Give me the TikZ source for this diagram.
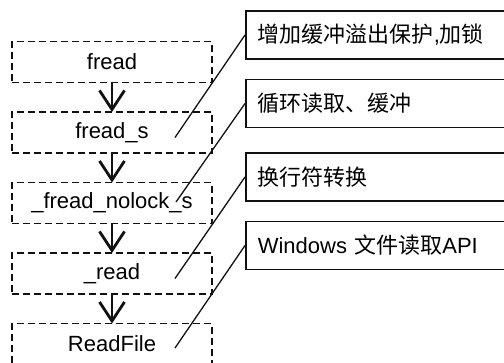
\documentclass[tikz,border=0pt]{standalone}
\usepackage{fontspec}
\setmainfont{Liberation Sans}
\newfontfamily\cjk{Noto Sans CJK SC}
\usetikzlibrary{arrows.meta,positioning}
\definecolor{ink}{HTML}{111111}
\tikzset{
  fnbox/.style={draw=ink,dash pattern=on 7pt off 4pt,line width=1.6pt,minimum width=200pt,minimum height=41pt,inner sep=0pt,outer sep=0pt,font=\fontsize{22}{26}\selectfont},
  note/.style={draw=ink,line width=1.6pt,anchor=west,minimum height=48pt,text width=260pt,inner xsep=12pt,inner ysep=0pt,align=left,font=\fontsize{22}{26}\selectfont},
  arr/.style={-{Straight Barb[length=19pt,width=25pt]},line width=2.8pt,color=ink},
  lnk/.style={line width=1.3pt,color=ink}}

\begin{document}
\begin{tikzpicture}[x=1pt,y=-1pt,node distance=29.5pt]
\useasboundingbox (0,0) rectangle (504,362);
\clip (0,0) rectangle (504,362);
% call chain
\node[fnbox] (fread) at (112,62) {fread};
\node[fnbox,below=of fread] (freads) {fread\_s};
\node[fnbox,below=of freads] (nolock) {\_fread\_nolock\_s};
\node[fnbox,below=of nolock] (rd) {\_read};
\node[fnbox,below=of rd] (rfile) {ReadFile};
\draw[arr] (fread) -- (freads);
\draw[arr] (freads) -- (nolock);
\draw[arr] (nolock) -- (rd);
\draw[arr] (rd) -- (rfile);
% notes
\node[note] (noteA) at (245,35) {{\cjk 增加缓冲溢出保护},{\cjk 加锁}};
\node[note] (noteB) at (245,103.5) {\cjk 循环读取、缓冲};
\node[note] (noteC) at (245,177) {\cjk 换行符转换};
\node[note] (noteD) at (245,245.5) {Windows {\cjk 文件读取}API};
\coordinate (pA) at ([shift={(63,5)}]freads.center);
\coordinate (pB) at ([shift={(64,-1)}]nolock.center);
\coordinate (pC) at ([shift={(63,5)}]rd.center);
\coordinate (pD) at ([shift={(63,4)}]rfile.center);
\draw[lnk] (pA) -- (noteA.west);
\draw[lnk] (pB) -- (noteB.west);
\draw[lnk] (pC) -- (noteC.west);
\draw[lnk] (pD) -- (noteD.west);
\end{tikzpicture}
\end{document}
